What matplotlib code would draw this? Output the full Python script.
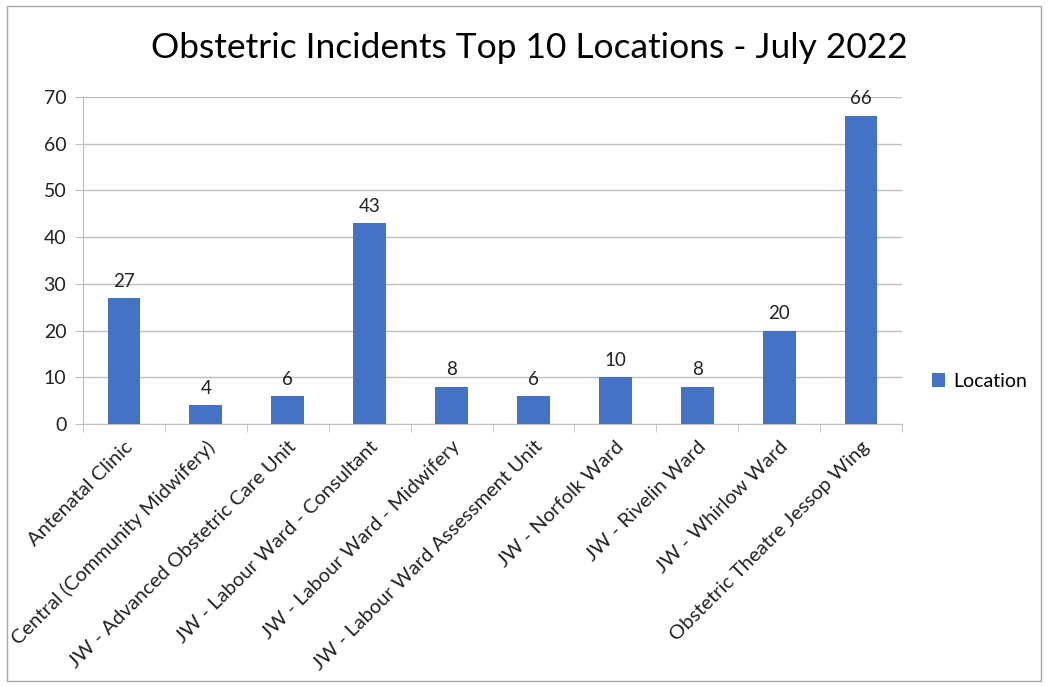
import matplotlib
matplotlib.use("Agg")
import matplotlib.pyplot as plt
from matplotlib.patches import Rectangle
from matplotlib.ticker import FixedLocator

plt.rcParams['font.family'] = ['Lato', 'DejaVu Sans']

locations = [
    "Antenatal Clinic",
    "Central (Community Midwifery)",
    "JW - Advanced Obstetric Care Unit",
    "JW - Labour Ward - Consultant",
    "JW - Labour Ward - Midwifery",
    "JW - Labour Ward Assessment Unit",
    "JW - Norfolk Ward",
    "JW - Rivelin Ward",
    "JW - Whirlow Ward",
    "Obstetric Theatre Jessop Wing",
]
counts = [27, 4, 6, 43, 8, 6, 10, 8, 20, 66]
y_ticks = [0, 10, 20, 30, 40, 50, 60, 70]

BAR_COLOR = "#4472C4"
GRID_COLOR = "#BFBFBF"

fig = plt.figure(figsize=(10.48, 6.86), dpi=100)
ax = fig.add_axes([0.0792, 0.3819, 0.7815, 0.4767])

x = range(len(locations))
ax.bar(x, counts, width=0.4, color=BAR_COLOR, label="Location", zorder=3)

for xi, v in zip(x, counts):
    ax.annotate(str(v), (xi, v), xytext=(0, 6), textcoords="offset points",
                ha="center", va="bottom", fontsize=13.5, color="#222222")

ax.set_xlim(-0.5, len(locations) - 0.5)
ax.set_ylim(0, 70)
ax.set_yticks(y_ticks)
ax.yaxis.grid(True, color=GRID_COLOR, linewidth=1, zorder=0)
ax.tick_params(axis="y", labelsize=14, length=6, color=GRID_COLOR, labelcolor="#222222", pad=6)

ax.set_xticks(list(x))
ax.set_xticklabels(locations, rotation=45, ha="right", rotation_mode="anchor",
                   fontsize=14.5, color="#222222")
ax.tick_params(axis="x", which="major", length=0, pad=10)
ax.xaxis.set_minor_locator(FixedLocator([i - 0.5 for i in range(len(locations) + 1)]))
ax.tick_params(axis="x", which="minor", length=6, color=GRID_COLOR)

for side in ["top", "right"]:
    ax.spines[side].set_visible(False)
for side in ["left", "bottom"]:
    ax.spines[side].set_color(GRID_COLOR)

ax.legend(loc="center left", bbox_to_anchor=(1.015, 0.13), frameon=False,
          fontsize=14, handlelength=0.7, handleheight=0.7, handletextpad=0.4)

fig.text(0.505, 0.93, "Obstetric Incidents Top 10 Locations - July 2022",
         ha="center", va="center", fontsize=25.5, color="#000000")

fig.patches.append(Rectangle((0.007, 0.008), 0.986, 0.983, transform=fig.transFigure,
                             fill=False, edgecolor="#A6A6A6", linewidth=1))

fig.savefig("out.png", dpi=100)
